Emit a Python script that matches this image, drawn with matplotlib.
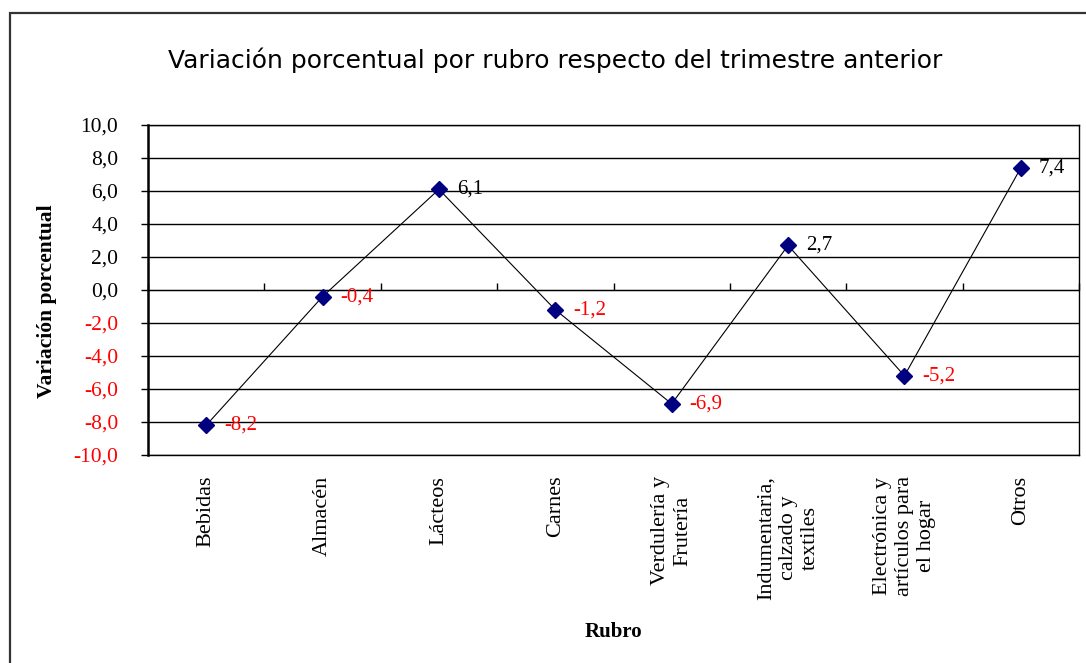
import numpy as np
import matplotlib
matplotlib.use("Agg")
import matplotlib.pyplot as plt
from matplotlib.patches import Rectangle

# data
categories = ["Bebidas", "Almacén", "Lácteos", "Carnes",
              "Verdulería y\nFrutería", "Indumentaria,\ncalzado y\ntextiles",
              "Electrónica y\nartículos para\nel hogar", "Otros"]
values = [-8.2, -0.4, 6.1, -1.2, -6.9, 2.7, -5.2, 7.4]
y_ticks = np.arange(-10, 10.1, 2)

serif = "Liberation Serif"

fig = plt.figure(figsize=(10.86, 6.63), dpi=100)
ax = fig.add_axes([148 / 1086, 1 - 455 / 663, (1079 - 148) / 1086, 330 / 663])

# outer chart frame (right and bottom run off the picture)
fig.patches.append(Rectangle((10 / 1086, -0.1), 1.2, 1.1 - 13 / 663,
                             transform=fig.transFigure, fill=False,
                             edgecolor="#333333", lw=1.6))

x = np.arange(len(categories))
ax.plot(x, values, color="black", lw=0.8, marker="D", markersize=8,
        markerfacecolor="#000080", markeredgecolor="#000080", zorder=3)

for xi, v in zip(x, values):
    lab = ("%.1f" % v).replace(".", ",")
    ax.annotate(lab, (xi, v), xytext=(13, 0), textcoords="offset points",
                va="center", ha="left", fontsize=15, family=serif,
                color="red" if v < 0 else "black")

ax.set_xlim(-0.5, len(categories) - 0.5)
ax.set_ylim(-10, 10)
ax.set_yticks(y_ticks)
ax.set_yticklabels([("%.1f" % t).replace(".", ",") for t in y_ticks],
                   family=serif, fontsize=15.5)
for t, lbl in zip(y_ticks, ax.get_yticklabels()):
    lbl.set_color("red" if t < 0 else "black")
ax.tick_params(axis="y", length=5, width=1, pad=16.5)
ax.grid(axis="y", color="black", lw=1)
ax.set_axisbelow(True)

ax.set_xticks(x)
ax.set_xticklabels(categories, rotation=90, family=serif, fontsize=16,
                   va="top", ha="center", multialignment="center")
ax.tick_params(axis="x", length=0, pad=15)

for s in ["top", "bottom", "right"]:
    ax.spines[s].set_linewidth(1)
ax.spines["left"].set_linewidth(1.8)

# category axis crosses at zero
sec = ax.secondary_xaxis(0.5)
sec.set_xticks(np.arange(-0.5, len(categories), 1))
sec.set_xticklabels([])
sec.tick_params(direction="out", length=5, width=1)
sec.spines["bottom"].set_linewidth(1)

fig.text(47 / 1086, 1 - 301 / 663, "Variación porcentual", family=serif,
         fontsize=15.5, fontweight="bold", rotation=90,
         ha="center", va="center")
fig.text(613 / 1086, 1 - 632 / 663, "Rubro", family=serif, fontsize=15,
         fontweight="bold", ha="center", va="center")

fig.text(0.511, 1 - 60 / 663,
         "Variación porcentual por rubro respecto del trimestre anterior",
         family="DejaVu Sans", fontsize=18, ha="center", va="center")

fig.savefig("out.png", dpi=100)
